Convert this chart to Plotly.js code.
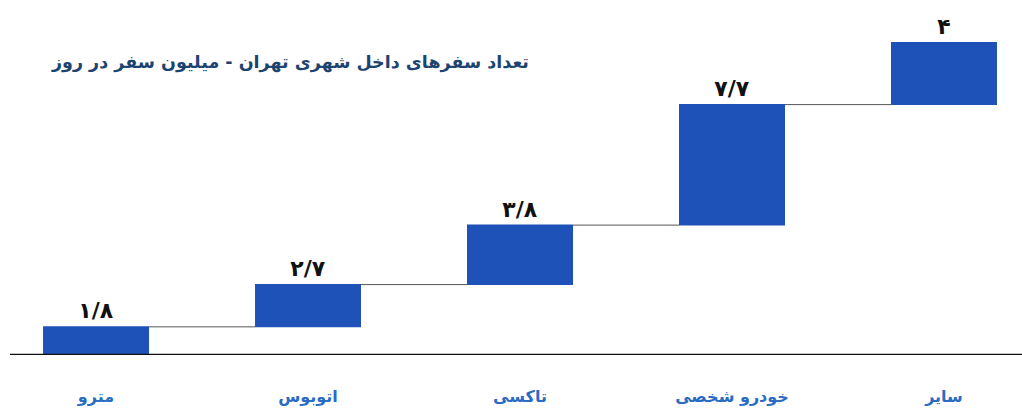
<!DOCTYPE html>
<html>
<head>
<meta charset="utf-8">
<script src="https://cdn.plot.ly/plotly-3.0.1.min.js"></script>
<style>html,body{margin:0;padding:0;background:#fff;}#chart{width:1022px;height:410px;}</style>
</head>
<body>
<div id="chart"></div>
<script>
const categories = ["مترو", "اتوبوس", "تاکسی", "خودرو شخصی", "سایر"];
const values = [1.8, 2.7, 3.8, 7.7, 4];
const valueLabels = ["۱/۸", "۲/۷", "۳/۸", "۷/۷", "۴"];
const chartTitle = "تعداد سفرهای داخل شهری تهران - میلیون سفر در روز";

const trace = {
  type: "waterfall",
  x: categories,
  y: values,
  measure: categories.map(() => "relative"),
  text: valueLabels,
  textposition: "outside",
  textfont: {family: "DejaVu Sans", size: 22, color: "#111", weight: "bold"},
  cliponaxis: false,
  width: 0.5,
  increasing: {marker: {color: "#1f52b8"}},
  decreasing: {marker: {color: "#1f52b8"}},
  totals: {marker: {color: "#1f52b8"}},
  connector: {line: {color: "#555", width: 1}},
  hoverinfo: "x+y"
};

const layout = {
  width: 1022, height: 410,
  margin: {l: 0, r: 0, t: 42, b: 55},
  paper_bgcolor: "#fff", plot_bgcolor: "#fff",
  showlegend: false,
  xaxis: {
    range: [-0.453, 4.368],
    showgrid: false, zeroline: false, showline: false,
    ticks: "",
    ticklabelstandoff: 30,
    tickfont: {family: "DejaVu Sans", size: 16, color: "#2a6cc4", weight: "bold"}
  },
  yaxis: {
    range: [0, 20],
    showgrid: false, zeroline: false, showline: false,
    showticklabels: false, ticks: ""
  },
  shapes: [{
    type: "line", xref: "paper", yref: "y",
    x0: 0.0098, x1: 1, y0: 0, y1: 0,
    line: {color: "#111", width: 2.5}
  }],
  annotations: [{
    text: "<b>" + chartTitle + "</b>",
    xref: "paper", yref: "paper",
    x: 531/1022, y: (355 - 62) / 313,
    xanchor: "right", yanchor: "middle",
    showarrow: false,
    font: {family: "DejaVu Sans", size: 17.5, color: "#1d4470"}
  }]
};

Plotly.newPlot("chart", [trace], layout, {displayModeBar: false, staticPlot: true});
</script>
</body>
</html>
